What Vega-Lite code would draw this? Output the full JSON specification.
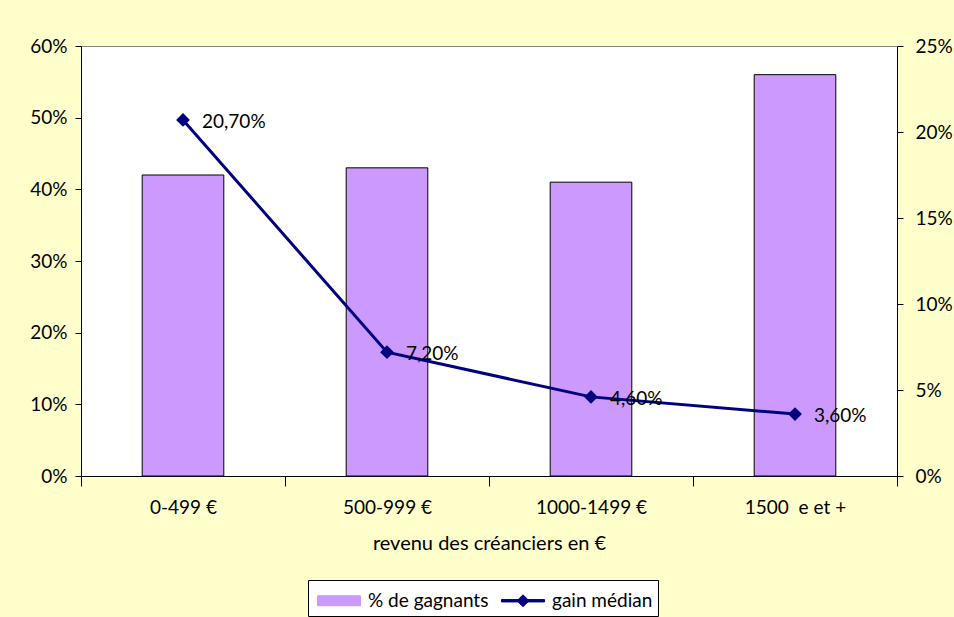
{
  "$schema": "https://vega.github.io/schema/vega-lite/v6.json",
  "width": 816,
  "height": 430,
  "autosize": {"type": "none"},
  "padding": {"left": 81, "top": 46, "right": 57, "bottom": 141},
  "background": "#FFFFCC",
  "config": {
    "font": "Lato",
    "view": {"fill": "white", "stroke": "#808080", "strokeWidth": 1},
    "axis": {
      "labelFont": "Lato", "labelFontSize": 19, "labelColor": "black",
      "domainColor": "black", "tickColor": "black", "grid": false,
      "titleFont": "Lato", "titleFontSize": 20, "titleFontWeight": "normal", "titleColor": "black"
    }
  },
  "data": {
    "values": [
      {"cat": "0-499 €", "pct": 0.42, "gain": 0.207, "label": "20,70%"},
      {"cat": "500-999 €", "pct": 0.43, "gain": 0.072, "label": "7,20%"},
      {"cat": "1000-1499 €", "pct": 0.41, "gain": 0.046, "label": "4,60%"},
      {"cat": "1500 \u00a0e et +", "pct": 0.56, "gain": 0.036, "label": "3,60%"}
    ]
  },
  "encoding": {
    "x": {
      "field": "cat", "type": "nominal", "sort": null,
      "scale": {"paddingInner": 0, "paddingOuter": 0},
      "axis": {
        "title": "revenu des créanciers en €", "labelAngle": 0, "tickBand": "extent",
        "tickSize": 10, "labelPadding": 12, "titlePadding": 16
      }
    }
  },
  "layer": [
    {
      "mark": {"type": "bar", "stroke": "black", "strokeWidth": 1, "width": {"band": 0.4}},
      "encoding": {
        "y": {
          "field": "pct", "type": "quantitative",
          "scale": {"domain": [0, 0.6]},
          "axis": {"format": ".0%", "values": [0, 0.1, 0.2, 0.3, 0.4, 0.5, 0.6], "title": null, "tickSize": 6, "labelPadding": 8}
        },
        "color": {
          "datum": "% de gagnants", "type": "nominal",
          "scale": {"domain": ["% de gagnants", "gain médian"], "range": ["#CC99FF", "#000080"]},
          "legend": {
            "title": null, "orient": "none", "legendX": 227, "legendY": 534,
            "direction": "horizontal", "fillColor": "white", "strokeColor": "black",
            "padding": 5, "labelFontSize": 19, "labelFont": "Lato", "labelColor": "black",
            "symbolSize": 900, "columnPadding": 8, "labelOffset": 24,
            "symbolType": {"expr": "datum.value === 'gain médian' ? 'M-0.733,-0.08H2.133V0.08H-0.733ZM0.3,0L0.7,-0.4L1.1,0L0.7,0.4Z' : 'M-0.733,-0.333H2.133V0.333H-0.733Z'"},
            "symbolFillColor": {"expr": "datum.value === 'gain médian' ? '#000080' : '#CC99FF'"},
            "symbolStrokeColor": {"expr": "datum.value === 'gain médian' ? '#000080' : 'black'"},
            "symbolStrokeWidth": 1,
            "symbolOpacity": 1
          }
        }
      }
    },
    {
      "encoding": {
        "y": {
          "field": "gain", "type": "quantitative",
          "scale": {"domain": [0, 0.25]},
          "axis": {"orient": "right", "format": ".0%", "values": [0, 0.05, 0.1, 0.15, 0.2, 0.25], "title": null, "tickSize": 6, "labelPadding": 12}
        }
      },
      "layer": [
        {
          "mark": {"type": "line", "strokeWidth": 3},
          "encoding": {"color": {"datum": "gain médian", "type": "nominal"}}
        },
        {
          "mark": {"type": "point", "shape": "diamond", "filled": true, "size": 190, "color": "#000080", "opacity": 1}
        },
        {
          "mark": {"type": "text", "align": "left", "baseline": "middle", "dx": 19, "dy": 2, "fontSize": 19, "font": "Lato", "color": "black"},
          "encoding": {"text": {"field": "label", "type": "nominal"}}
        }
      ]
    }
  ],
  "resolve": {"scale": {"y": "independent"}}
}
